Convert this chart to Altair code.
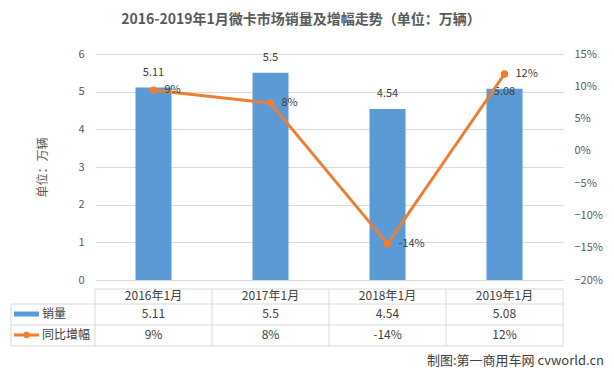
import altair as alt
import pandas as pd

categories = ["2016年1月", "2017年1月", "2018年1月", "2019年1月"]
sales = [5.11, 5.5, 4.54, 5.08]
sales_labels = ["5.11", "5.5", "4.54", "5.08"]
growth = [0.094, 0.074, -0.144, 0.119]
growth_labels = ["9%", "8%", "-14%", "12%"]

FONT = "Noto Sans CJK SC"
BLUE = "#5B9BD5"
ORANGE = "#ED7D31"
GRID = "#D9D9D9"
TXT = "#404040"
AX = "#595959"

df = pd.DataFrame({
    "cat": categories,
    "sales": sales,
    "sales_label": sales_labels,
    "growth": growth,
    "growth_label": growth_labels,
})
one = pd.DataFrame({"a": [0]})

xenc = alt.X("cat:N", sort=categories, axis=None,
             scale=alt.Scale(paddingInner=0, paddingOuter=0))

base = alt.Chart(df)

ys = alt.Y("sales:Q", scale=alt.Scale(domain=[0, 6], nice=False),
           axis=alt.Axis(orient="left", values=[0, 1, 2, 3, 4, 5, 6], format="d",
                         grid=True, gridColor=GRID, domain=False, ticks=False,
                         labelPadding=11, labelColor=AX, labelFontSize=11,
                         title="单位：万辆", titleX=-53, titleY=113,
                         titleBaseline="middle", titleColor=AX,
                         titleFontSize=12, titleFontWeight="normal"))

bars = base.mark_bar(size=36, color=BLUE).encode(x=xenc, y=ys)
bar_labels = base.mark_text(dy=-15, fontSize=11, color=TXT, font=FONT).encode(
    x=xenc, y=ys, text="sales_label:N"
).transform_filter(alt.datum.cat != "2019年1月")
bar_labels2 = base.mark_text(dy=3, fontSize=11, color=TXT, font=FONT).encode(
    x=xenc, y=ys, text="sales_label:N"
).transform_filter(alt.datum.cat == "2019年1月")

yg = alt.Y("growth:Q", scale=alt.Scale(domain=[-0.2, 0.15], nice=False),
           axis=alt.Axis(orient="right",
                         values=[-0.2, -0.15, -0.1, -0.05, 0, 0.05, 0.1, 0.15],
                         format=".0%", grid=False, domain=False, ticks=False,
                         labelPadding=11, labelColor=AX, labelFontSize=11,
                         title=None))
line = base.mark_line(color=ORANGE, strokeWidth=3).encode(x=xenc, y=yg)
pts = base.mark_point(filled=True, opacity=1, color=ORANGE, size=55).encode(x=xenc, y=yg)
line_labels = base.mark_text(align="left", dx=11, fontSize=11, color=TXT, font=FONT).encode(
    x=xenc, y=yg, text="growth_label:N")
right = alt.layer(line, pts, line_labels)

# data table
hdr = base.mark_text(fontSize=12, color=TXT, font=FONT).encode(
    x=xenc, y=alt.value(242), text="cat:N")
row1 = base.mark_text(fontSize=12, color=TXT, font=FONT).encode(
    x=xenc, y=alt.value(260), text="sales_label:N")
row2 = base.mark_text(fontSize=12, color=TXT, font=FONT).encode(
    x=xenc, y=alt.value(281), text="growth_label:N")

vlines = base.mark_rule(color=GRID, strokeWidth=1).encode(
    x=alt.X("cat:N", sort=categories, axis=None, bandPosition=0,
            scale=alt.Scale(paddingInner=0, paddingOuter=0)),
    y=alt.value(235), y2=alt.value(292))
o = alt.Chart(one)
vline_end = o.mark_rule(color=GRID).encode(x=alt.value(468), y=alt.value(235), y2=alt.value(292))
vline_left = o.mark_rule(color=GRID).encode(x=alt.value(-84), y=alt.value(250), y2=alt.value(292))
h0 = o.mark_rule(color=GRID).encode(x=alt.value(0), x2=alt.value(468), y=alt.value(235))
h1 = o.mark_rule(color=GRID).encode(x=alt.value(-84), x2=alt.value(468), y=alt.value(250))
h2 = o.mark_rule(color=GRID).encode(x=alt.value(-84), x2=alt.value(468), y=alt.value(271))
h3 = o.mark_rule(color=GRID).encode(x=alt.value(-84), x2=alt.value(468), y=alt.value(292))

leg_rect = o.mark_rect(color=BLUE).encode(x=alt.value(-81), x2=alt.value(-56),
                                          y=alt.value(257.5), y2=alt.value(262.5))
leg_line = o.mark_rule(color=ORANGE, strokeWidth=3).encode(x=alt.value(-81), x2=alt.value(-56),
                                                           y=alt.value(281))
leg_pt = o.mark_point(filled=True, opacity=1, color=ORANGE, size=40).encode(
    x=alt.value(-68.5), y=alt.value(281))
leg_t1 = o.mark_text(align="left", fontSize=12, color=TXT, font=FONT, text="销量").encode(
    x=alt.value(-53), y=alt.value(260))
leg_t2 = o.mark_text(align="left", fontSize=12, color=TXT, font=FONT, text="同比增幅").encode(
    x=alt.value(-53), y=alt.value(281))

title = o.mark_text(fontSize=14, fontWeight="bold", color=AX, font=FONT,
                    text="2016-2019年1月微卡市场销量及增幅走势（单位：万辆）").encode(
    x=alt.value(206), y=alt.value(-34))
footer = o.mark_text(align="right", fontSize=13, color=TXT, font=FONT,
                     text="制图:第一商用车网 cvworld.cn").encode(
    x=alt.value(509), y=alt.value(307))

left = alt.layer(bars, bar_labels, bar_labels2,
                 vlines, vline_end, vline_left, h0, h1, h2, h3,
                 hdr, row1, row2, leg_rect, leg_line, leg_pt, leg_t1, leg_t2,
                 title, footer)

chart = alt.layer(left, right).resolve_scale(y="independent").properties(
    width=468, height=226,
    autosize=alt.AutoSizeParams(type="none"),
    padding={"left": 87, "top": 46, "right": 43, "bottom": 91},
).configure_view(stroke=None).configure_axis(
    labelFont=FONT, titleFont=FONT, titleColor=AX, labelColor=AX)

chart.save("out.html", embed_options={"renderer": "svg", "actions": False})
